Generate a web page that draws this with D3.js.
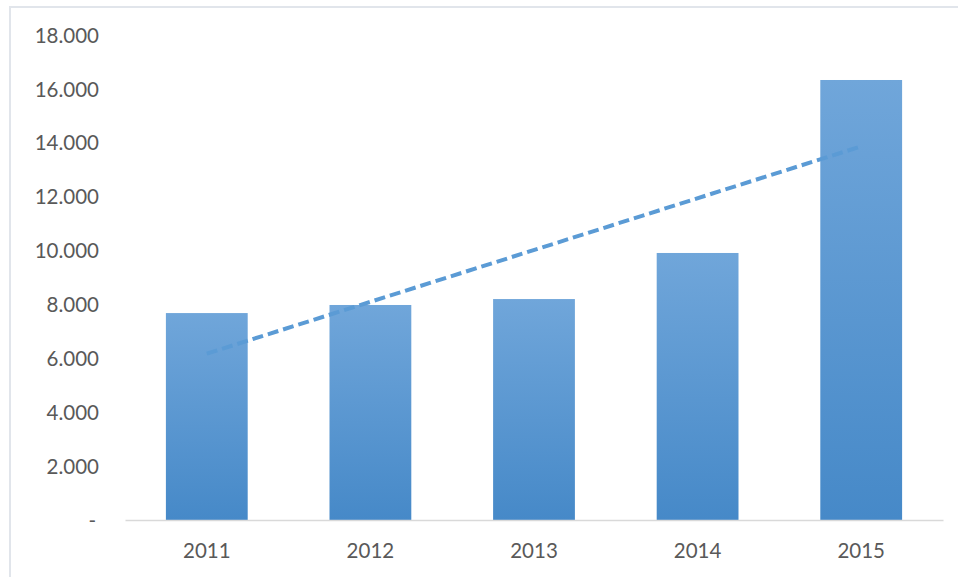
<!DOCTYPE html>
<html>
<head>
<meta charset="utf-8">
<script src="https://cdn.jsdelivr.net/npm/d3@7"></script>
<style>
  html, body { margin: 0; padding: 0; background: #ffffff; }
  svg { display: block; }
</style>
</head>
<body>
<svg id="chart" width="958" height="577"></svg>
<script>
// Annual totals per year
const years = ["2011", "2012", "2013", "2014", "2015"];
const values = [7680, 7980, 8200, 9910, 16330];
const yTicks = [0, 2000, 4000, 6000, 8000, 10000, 12000, 14000, 16000, 18000];

const width = 958, height = 577;
const plot = { left: 125, right: 943, top: 35, bottom: 520 };
const textColor = "#595959";
const fontFamily = "Lato, 'Open Sans', sans-serif";

const svg = d3.select("#chart");

// Bar fill: lighter at the top, deeper blue at the base
const defs = svg.append("defs");
const grad = defs.append("linearGradient")
  .attr("id", "barFill")
  .attr("x1", 0).attr("y1", 0).attr("x2", 0).attr("y2", 1);
grad.append("stop").attr("offset", "0%").attr("stop-color", "#70a6da");
grad.append("stop").attr("offset", "100%").attr("stop-color", "#4689c8");

// Chart area frame (top and left edges visible)
svg.append("path")
  .attr("d", `M10,${height + 5} L10,7 L${width + 5},7`)
  .attr("fill", "none")
  .attr("stroke", "#e1e5eb")
  .attr("stroke-width", 2);

const x = d3.scaleBand()
  .domain(years)
  .range([plot.left, plot.right])
  .paddingInner(0.5)
  .paddingOuter(0.25);

const y = d3.scaleLinear()
  .domain([0, 18000])
  .range([plot.bottom, plot.top]);

// Y axis labels (accounting style: thousands with a dot, zero as a dash)
const fmtNum = d3.formatLocale({ decimal: ",", thousands: ".", grouping: [3], currency: ["", ""] }).format(",d");
const yAxis = d3.axisLeft(y)
  .tickValues(yTicks)
  .tickSize(0)
  .tickPadding(0)
  .tickFormat(d => d === 0 ? "-" : fmtNum(d));

const yG = svg.append("g")
  .attr("transform", `translate(99,0)`)
  .call(yAxis);
yG.select(".domain").remove();
yG.selectAll("text")
  .attr("fill", textColor)
  .attr("font-family", fontFamily)
  .attr("font-size", 20.5)
  .attr("dy", "0.35em");
yG.selectAll(".tick")
  .filter(d => d === 0)
  .select("text")
  .attr("dx", -3);

// Bars
svg.append("g")
  .selectAll("rect")
  .data(years.map((yr, i) => ({ yr, v: values[i] })))
  .join("rect")
  .attr("x", d => x(d.yr))
  .attr("y", d => y(d.v))
  .attr("width", x.bandwidth())
  .attr("height", d => y(0) - y(d.v))
  .attr("fill", "url(#barFill)");

// X axis
const xAxis = d3.axisBottom(x).tickSize(0).tickPadding(23);
const xG = svg.append("g")
  .attr("transform", `translate(0,${plot.bottom})`)
  .call(xAxis);
xG.select(".domain")
  .attr("stroke", "#d9d9d9")
  .attr("stroke-width", 1.5);
xG.selectAll("text")
  .attr("fill", textColor)
  .attr("font-family", fontFamily)
  .attr("font-size", 20.5)
  .attr("dy", "0.71em");

// Linear trend line (least squares over the yearly values)
const idx = values.map((_, i) => i + 1);
const mx = d3.mean(idx), my = d3.mean(values);
const slope = d3.sum(idx, (xi, i) => (xi - mx) * (values[i] - my)) / d3.sum(idx, xi => (xi - mx) ** 2);
const intercept = my - slope * mx;
const trend = years.map((yr, i) => ({ yr, v: intercept + slope * idx[i] }));
const firstT = trend[0], lastT = trend[trend.length - 1];

svg.append("line")
  .attr("x1", x(firstT.yr) + x.bandwidth() / 2)
  .attr("y1", y(firstT.v))
  .attr("x2", x(lastT.yr) + x.bandwidth() / 2)
  .attr("y2", y(lastT.v))
  .attr("stroke", "#5b9bd5")
  .attr("stroke-width", 4)
  .attr("stroke-dasharray", "11,5");
</script>
</body>
</html>
